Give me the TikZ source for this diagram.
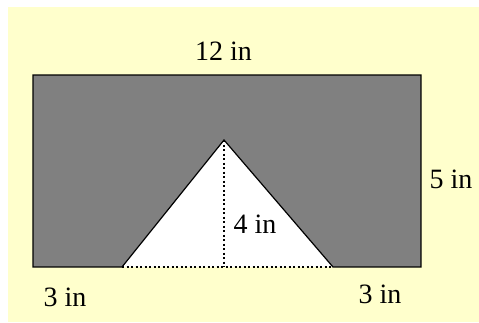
\documentclass[tikz,border=0pt]{standalone}
\usepackage{fontspec}
\setmainfont{Liberation Serif}
\definecolor{bgyellow}{HTML}{FFFFCC}
\definecolor{shapegray}{HTML}{808080}
\begin{document}
\begin{tikzpicture}[x=1pt,y=-1pt,
  lbl/.style={anchor=base,inner sep=0pt,font=\fontsize{28}{32}\selectfont},
  edge/.style={line width=1.2pt,line join=miter},
  dotline/.style={line width=1.4pt,dash pattern=on 2pt off 2.5pt}]
  \useasboundingbox (0,0) rectangle (479,322);
  \fill[bgyellow] (8,7) rectangle (479,322);
  % corners
  \coordinate (tl) at (33,75);
  \coordinate (tr) at (421,75);
  \coordinate (br) at (421,267);
  \coordinate (bl) at (33,267);
  \coordinate (apex) at (224,140);
  \coordinate (tbl) at (122,267);
  \coordinate (tbr) at (333,267);
  \coordinate (foot) at (224,267);
  \fill[shapegray] (tl) rectangle (br);
  \fill[white] (tbl) -- (apex) -- (tbr) -- cycle;
  \draw[edge] (tbl) -- (bl) -- (tl) -- (tr) -- (br) -- (tbr) -- (apex) -- (tbl);
  \draw[dotline] (tbl) -- (tbr);
  \draw[dotline] (apex) -- (foot);
  \node[lbl] (top) at (223.5,60) {12 in};
  \node[lbl] (right) at (451,188) {5 in};
  \node[lbl] (height) at (255,233) {4 in};
  \node[lbl] (left3) at (65,306) {3 in};
  \node[lbl] (right3) at (380,303) {3 in};
\end{tikzpicture}
\end{document}
